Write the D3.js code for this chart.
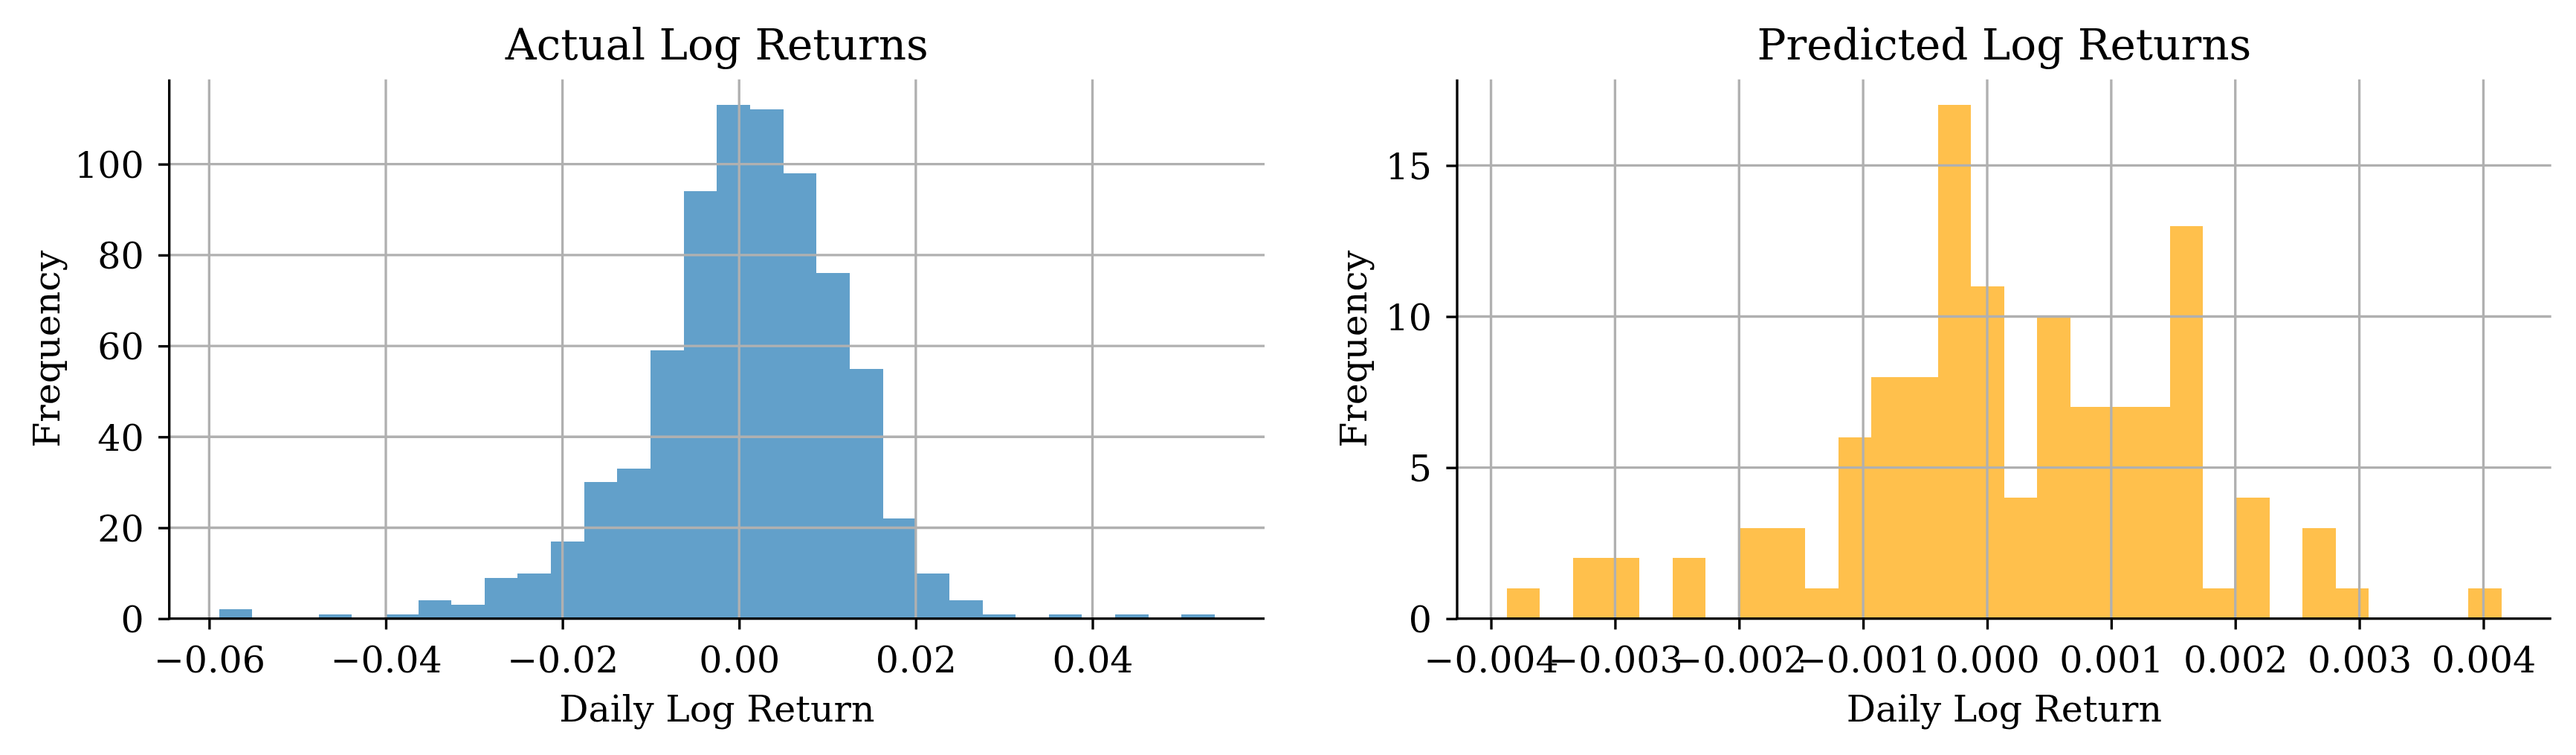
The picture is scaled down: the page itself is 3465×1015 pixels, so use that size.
<!DOCTYPE html>
<html>
<head>
<meta charset="utf-8">
<script src="https://cdn.jsdelivr.net/npm/d3@7"></script>
<style>
  html, body { margin: 0; padding: 0; background: #ffffff; }
  svg { display: block; }
  text { font-family: "DejaVu Serif", serif; fill: #000; }
</style>
</head>
<body>
<svg id="chart" width="3465" height="1015"></svg>
<script>
// ---------------- DATA ----------------
const actualTitle = "Actual Log Returns";
const predictedTitle = "Predicted Log Returns";
const xLabel = "Daily Log Return";
const yLabel = "Frequency";

// histogram counts (30 equal bins between the data min and max)
const actualCounts = [2, 0, 0, 1, 0, 1, 4, 3, 9, 10, 17, 30, 33, 59, 94, 113, 112, 98, 76, 55, 22, 10, 4, 1, 0, 1, 0, 1, 0, 1];
const actualExtent = [-0.05888, 0.05385];
const predictedCounts = [1, 0, 2, 2, 0, 2, 0, 3, 3, 1, 6, 8, 8, 17, 11, 4, 10, 7, 7, 7, 13, 1, 4, 0, 3, 1, 0, 0, 0, 1];
const predictedExtent = [-0.003872, 0.004146];

// tick values and labels
const actualXTicks = [-0.06, -0.04, -0.02, 0.00, 0.02, 0.04];
const actualXTickLabels = ["\u22120.06", "\u22120.04", "\u22120.02", "0.00", "0.02", "0.04"];
const actualYTicks = [0, 20, 40, 60, 80, 100];
const predictedXTicks = [-0.004, -0.003, -0.002, -0.001, 0.000, 0.001, 0.002, 0.003, 0.004];
const predictedXTickLabels = ["\u22120.004", "\u22120.003", "\u22120.002", "\u22120.001", "0.000", "0.001", "0.002", "0.003", "0.004"];
const predictedYTicks = [0, 5, 10, 15];

// ---------------- STYLE / LAYOUT ----------------
const svg = d3.select("#chart");
const LW = 3.33;          // 0.8pt at 300 dpi
const TICK = 14.6;        // 3.5pt
const FS_TICK = 49;
const FS_LABEL = 49;
const FS_TITLE = 58;
const axTop = 106.7, axBottom = 831.7;

const panels = [
  { x0: 227.7, x1: 1701, counts: actualCounts, extent: actualExtent,
    xticks: actualXTicks, xlabels: actualXTickLabels, yticks: actualYTicks,
    color: "#1f77b4", title: actualTitle, ylabelX: 80 },
  { x0: 1960, x1: 3431.7, counts: predictedCounts, extent: predictedExtent,
    xticks: predictedXTicks, xlabels: predictedXTickLabels, yticks: predictedYTicks,
    color: "#ffa500", title: predictedTitle, ylabelX: 1838 }
];

panels.forEach(p => {
  const n = p.counts.length;
  const span = p.extent[1] - p.extent[0];
  const edges = d3.range(n + 1).map(i => p.extent[0] + span * i / n);
  const bins = p.counts.map((c, i) => ({ x0: edges[i], x1: edges[i + 1], count: c }));

  const x = d3.scaleLinear()
    .domain([p.extent[0] - 0.05 * span, p.extent[1] + 0.05 * span])
    .range([p.x0, p.x1]);
  const ymax = d3.max(p.counts) * 1.05;
  const y = d3.scaleLinear().domain([0, ymax]).range([axBottom, axTop]);

  const g = svg.append("g");

  // bars
  g.append("g").selectAll("rect").data(bins.filter(b => b.count > 0)).join("rect")
    .attr("x", d => x(d.x0))
    .attr("width", d => x(d.x1) - x(d.x0))
    .attr("y", d => y(d.count))
    .attr("height", d => y(0) - y(d.count))
    .attr("fill", p.color)
    .attr("fill-opacity", 0.7)
    .attr("shape-rendering", "crispEdges");

  // grid
  const grid = g.append("g").attr("stroke", "#b0b0b0").attr("stroke-width", LW);
  grid.selectAll(".vg").data(p.xticks).join("line")
    .attr("x1", d => x(d)).attr("x2", d => x(d))
    .attr("y1", axTop).attr("y2", axBottom);
  grid.selectAll(".hg").data(p.yticks).join("line")
    .attr("x1", p.x0).attr("x2", p.x1)
    .attr("y1", d => y(d)).attr("y2", d => y(d));

  // x axis
  const xAxis = d3.axisBottom(x).tickValues(p.xticks).tickSize(TICK)
    .tickFormat((d, i) => p.xlabels[i]);
  const xg = g.append("g").attr("transform", `translate(0,${axBottom})`).call(xAxis);
  xg.select(".domain").remove();
  xg.selectAll(".tick line").attr("stroke", "#000").attr("stroke-width", LW);
  xg.selectAll(".tick text")
    .attr("y", 72.3).attr("dy", null)
    .attr("font-size", FS_TICK).attr("font-family", "DejaVu Serif").attr("fill", "#000");

  // y axis
  const yAxis = d3.axisLeft(y).tickValues(p.yticks).tickSize(TICK).tickFormat(d3.format("d"));
  const yg = g.append("g").attr("transform", `translate(${p.x0},0)`).call(yAxis);
  yg.select(".domain").remove();
  yg.selectAll(".tick line").attr("stroke", "#000").attr("stroke-width", LW);
  yg.selectAll(".tick text")
    .attr("x", -34).attr("dy", "0.365em")
    .attr("font-size", FS_TICK).attr("font-family", "DejaVu Serif").attr("fill", "#000");

  // spines (left, bottom)
  g.append("line").attr("x1", p.x0).attr("x2", p.x0).attr("y1", axTop).attr("y2", axBottom + LW / 2)
    .attr("stroke", "#000").attr("stroke-width", LW);
  g.append("line").attr("x1", p.x0 - LW / 2).attr("x2", p.x1).attr("y1", axBottom).attr("y2", axBottom)
    .attr("stroke", "#000").attr("stroke-width", LW);

  // title
  g.append("text").attr("x", (p.x0 + p.x1) / 2).attr("y", 80)
    .attr("text-anchor", "middle").attr("font-size", FS_TITLE).text(p.title);

  // x label
  g.append("text").attr("x", (p.x0 + p.x1) / 2).attr("y", 970)
    .attr("text-anchor", "middle").attr("font-size", FS_LABEL).text(xLabel);

  // y label
  const cy = (axTop + axBottom) / 2;
  g.append("text").attr("transform", `translate(${p.ylabelX},${cy}) rotate(-90)`)
    .attr("text-anchor", "middle").attr("font-size", FS_LABEL).text(yLabel);
});
</script>
</body>
</html>
